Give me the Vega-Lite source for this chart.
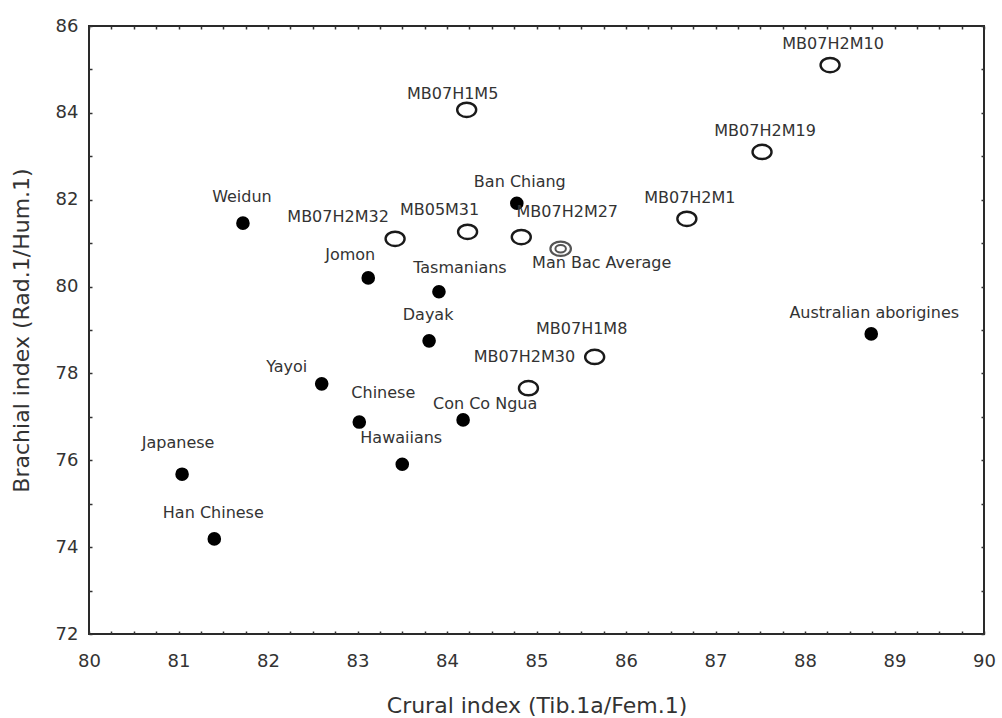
{
  "$schema": "https://vega.github.io/schema/vega-lite/v6.json",
  "autosize": {"type": "none"},
  "padding": {"left": 89, "top": 26, "right": 18, "bottom": 84},
  "width": 895,
  "height": 608,
  "background": "white",
  "config": {
    "view": {"stroke": "#2a2a2a", "strokeWidth": 2},
    "text": {"font": "DejaVu Sans", "fontSize": 16, "color": "#333"}
  },
  "data": {
    "values": [
      {"name": "Weidun", "crural": 81.72, "brachial": 81.46, "group": "ref"},
      {"name": "Jomon", "crural": 83.12, "brachial": 80.20, "group": "ref"},
      {"name": "Tasmanians", "crural": 83.91, "brachial": 79.88, "group": "ref"},
      {"name": "Dayak", "crural": 83.80, "brachial": 78.75, "group": "ref"},
      {"name": "Ban Chiang", "crural": 84.78, "brachial": 81.92, "group": "ref"},
      {"name": "Australian aborigines", "crural": 88.74, "brachial": 78.91, "group": "ref"},
      {"name": "Yayoi", "crural": 82.60, "brachial": 77.76, "group": "ref"},
      {"name": "Chinese", "crural": 83.02, "brachial": 76.88, "group": "ref"},
      {"name": "Con Co Ngua", "crural": 84.18, "brachial": 76.93, "group": "ref"},
      {"name": "Hawaiians", "crural": 83.50, "brachial": 75.91, "group": "ref"},
      {"name": "Japanese", "crural": 81.04, "brachial": 75.68, "group": "ref"},
      {"name": "Han Chinese", "crural": 81.40, "brachial": 74.19, "group": "ref"},
      {"name": "MB07H1M5", "crural": 84.22, "brachial": 84.07, "group": "mb"},
      {"name": "MB07H2M32", "crural": 83.42, "brachial": 81.10, "group": "mb"},
      {"name": "MB05M31", "crural": 84.23, "brachial": 81.26, "group": "mb"},
      {"name": "MB07H2M10", "crural": 88.28, "brachial": 85.10, "group": "mb"},
      {"name": "MB07H2M19", "crural": 87.52, "brachial": 83.10, "group": "mb"},
      {"name": "MB07H2M1", "crural": 86.68, "brachial": 81.56, "group": "mb"},
      {"name": "MB07H2M27", "crural": 84.83, "brachial": 81.14, "group": "mb"},
      {"name": "MB07H1M8", "crural": 85.65, "brachial": 78.38, "group": "mb"},
      {"name": "MB07H2M30", "crural": 84.91, "brachial": 77.66, "group": "mb"},
      {"name": "Man Bac Average", "crural": 85.27, "brachial": 80.87, "group": "avg"}
    ]
  },
  "resolve": {"axis": {"x": "independent", "y": "independent"}},
  "layer": [
    {
      "transform": [{"filter": "datum.group === 'ref'"}],
      "mark": {"type": "point", "shape": "circle", "filled": true, "size": 185, "color": "#000", "opacity": 1},
      "encoding": {
        "x": {"field": "crural", "type": "quantitative",
          "scale": {"domain": [80, 90], "nice": false, "zero": false},
          "axis": {"orient": "bottom", "title": "Crural index (Tib.1a/Fem.1)",
            "values": [80,80.25,80.5,80.75,81,81.25,81.5,81.75,82,82.25,82.5,82.75,83,83.25,83.5,83.75,84,84.25,84.5,84.75,85,85.25,85.5,85.75,86,86.25,86.5,86.75,87,87.25,87.5,87.75,88,88.25,88.5,88.75,89,89.25,89.5,89.75,90],
            "labelExpr": "datum.value % 1 === 0 ? format(datum.value, 'd') : ''",
            "labelOverlap": false, "labelFlush": false, "labelBound": false,
            "domain": false, "grid": false,
            "tickSize": -3, "tickColor": "#333", "tickWidth": 1.5,
            "labelFont": "DejaVu Sans", "labelFontSize": 18, "labelColor": "#333", "labelPadding": 21,
            "titleFont": "DejaVu Sans", "titleFontSize": 22, "titleFontWeight": "normal", "titleColor": "#333", "titlePadding": 25}},
        "y": {"field": "brachial", "type": "quantitative",
          "scale": {"domain": [72, 86], "nice": false, "zero": false},
          "axis": {"orient": "left", "title": "Brachial index (Rad.1/Hum.1)",
            "values": [72,73,74,75,76,77,78,79,80,81,82,83,84,85,86],
            "labelExpr": "datum.value % 2 === 0 ? format(datum.value, 'd') : ''",
            "labelOverlap": false, "labelFlush": false, "labelBound": false,
            "domain": false, "grid": false,
            "tickSize": -3, "tickColor": "#333", "tickWidth": 1.5,
            "labelFont": "DejaVu Sans", "labelFontSize": 18, "labelColor": "#333", "labelPadding": 14,
            "titleFont": "DejaVu Sans", "titleFontSize": 22, "titleFontWeight": "normal", "titleColor": "#333", "titlePadding": 22}}
      }
    },
    {
      "transform": [{"filter": "datum.group === 'mb'"}],
      "mark": {"type": "point", "shape": "M-1,0A1,0.75,0,1,1,1,0A1,0.75,0,1,1,-1,0Z", "filled": false, "size": 361, "stroke": "#1a1a1a", "strokeWidth": 2.4, "opacity": 1},
      "encoding": {
        "x": {"field": "crural", "type": "quantitative",
          "axis": {"orient": "top", "title": null, "labels": false, "domain": false, "grid": false,
            "values": [80,80.25,80.5,80.75,81,81.25,81.5,81.75,82,82.25,82.5,82.75,83,83.25,83.5,83.75,84,84.25,84.5,84.75,85,85.25,85.5,85.75,86,86.25,86.5,86.75,87,87.25,87.5,87.75,88,88.25,88.5,88.75,89,89.25,89.5,89.75,90],
            "tickSize": -3, "tickColor": "#333", "tickWidth": 1.5}},
        "y": {"field": "brachial", "type": "quantitative",
          "axis": {"orient": "right", "title": null, "labels": false, "domain": false, "grid": false,
            "values": [72,73,74,75,76,77,78,79,80,81,82,83,84,85,86],
            "tickSize": -3, "tickColor": "#333", "tickWidth": 1.5}}
      }
    },
    {
      "transform": [{"filter": "datum.group === 'avg'"}],
      "mark": {"type": "point", "shape": "M-1,0A1,0.7,0,1,1,1,0A1,0.7,0,1,1,-1,0Z", "filled": false, "size": 420, "stroke": "#555", "strokeWidth": 2.2, "opacity": 1},
      "encoding": {
        "x": {"field": "crural", "type": "quantitative", "axis": null},
        "y": {"field": "brachial", "type": "quantitative", "axis": null}
      }
    },
    {
      "transform": [{"filter": "datum.group === 'avg'"}],
      "mark": {"type": "point", "shape": "M-1,0A1,0.7,0,1,1,1,0A1,0.7,0,1,1,-1,0Z", "filled": false, "size": 110, "stroke": "#555", "strokeWidth": 2, "opacity": 1},
      "encoding": {
        "x": {"field": "crural", "type": "quantitative", "axis": null},
        "y": {"field": "brachial", "type": "quantitative", "axis": null}
      }
    },
    {
      "transform": [{"filter": {"field": "name", "oneOf": ["MB07H2M10", "MB07H2M19", "MB07H2M1", "Ban Chiang", "Australian aborigines"]}}],
      "mark": {"type": "text", "dx": 3, "dy": -21, "align": "center", "baseline": "middle"},
      "encoding": {"x": {"field": "crural", "type": "quantitative", "axis": null}, "y": {"field": "brachial", "type": "quantitative", "axis": null}, "text": {"field": "name"}}
    },
    {
      "transform": [{"filter": {"field": "name", "oneOf": ["Weidun", "Dayak", "Hawaiians", "Han Chinese"]}}],
      "mark": {"type": "text", "dx": -1, "dy": -26, "align": "center", "baseline": "middle"},
      "encoding": {"x": {"field": "crural", "type": "quantitative", "axis": null}, "y": {"field": "brachial", "type": "quantitative", "axis": null}, "text": {"field": "name"}}
    },
    {
      "transform": [{"filter": {"field": "name", "oneOf": ["MB07H1M5"]}}],
      "mark": {"type": "text", "dx": -14, "dy": -16, "align": "center", "baseline": "middle"},
      "encoding": {"x": {"field": "crural", "type": "quantitative", "axis": null}, "y": {"field": "brachial", "type": "quantitative", "axis": null}, "text": {"field": "name"}}
    },
    {
      "transform": [{"filter": {"field": "name", "oneOf": ["MB07H1M8"]}}],
      "mark": {"type": "text", "dx": -13, "dy": -28, "align": "center", "baseline": "middle"},
      "encoding": {"x": {"field": "crural", "type": "quantitative", "axis": null}, "y": {"field": "brachial", "type": "quantitative", "axis": null}, "text": {"field": "name"}}
    },
    {
      "transform": [{"filter": {"field": "name", "oneOf": ["MB07H2M32"]}}],
      "mark": {"type": "text", "dx": -57, "dy": -22, "align": "center", "baseline": "middle"},
      "encoding": {"x": {"field": "crural", "type": "quantitative", "axis": null}, "y": {"field": "brachial", "type": "quantitative", "axis": null}, "text": {"field": "name"}}
    },
    {
      "transform": [{"filter": {"field": "name", "oneOf": ["MB05M31"]}}],
      "mark": {"type": "text", "dx": -28, "dy": -22, "align": "center", "baseline": "middle"},
      "encoding": {"x": {"field": "crural", "type": "quantitative", "axis": null}, "y": {"field": "brachial", "type": "quantitative", "axis": null}, "text": {"field": "name"}}
    },
    {
      "transform": [{"filter": {"field": "name", "oneOf": ["Jomon"]}}],
      "mark": {"type": "text", "dx": -18, "dy": -23, "align": "center", "baseline": "middle"},
      "encoding": {"x": {"field": "crural", "type": "quantitative", "axis": null}, "y": {"field": "brachial", "type": "quantitative", "axis": null}, "text": {"field": "name"}}
    },
    {
      "transform": [{"filter": {"field": "name", "oneOf": ["Yayoi"]}}],
      "mark": {"type": "text", "dx": -35, "dy": -17, "align": "center", "baseline": "middle"},
      "encoding": {"x": {"field": "crural", "type": "quantitative", "axis": null}, "y": {"field": "brachial", "type": "quantitative", "axis": null}, "text": {"field": "name"}}
    },
    {
      "transform": [{"filter": {"field": "name", "oneOf": ["MB07H2M30", "Japanese"]}}],
      "mark": {"type": "text", "dx": -4, "dy": -31, "align": "center", "baseline": "middle"},
      "encoding": {"x": {"field": "crural", "type": "quantitative", "axis": null}, "y": {"field": "brachial", "type": "quantitative", "axis": null}, "text": {"field": "name"}}
    },
    {
      "transform": [{"filter": {"field": "name", "oneOf": ["MB07H2M27"]}}],
      "mark": {"type": "text", "dx": 46, "dy": -25, "align": "center", "baseline": "middle"},
      "encoding": {"x": {"field": "crural", "type": "quantitative", "axis": null}, "y": {"field": "brachial", "type": "quantitative", "axis": null}, "text": {"field": "name"}}
    },
    {
      "transform": [{"filter": {"field": "name", "oneOf": ["Tasmanians"]}}],
      "mark": {"type": "text", "dx": 21, "dy": -24, "align": "center", "baseline": "middle"},
      "encoding": {"x": {"field": "crural", "type": "quantitative", "axis": null}, "y": {"field": "brachial", "type": "quantitative", "axis": null}, "text": {"field": "name"}}
    },
    {
      "transform": [{"filter": {"field": "name", "oneOf": ["Con Co Ngua"]}}],
      "mark": {"type": "text", "dx": 22, "dy": -16, "align": "center", "baseline": "middle"},
      "encoding": {"x": {"field": "crural", "type": "quantitative", "axis": null}, "y": {"field": "brachial", "type": "quantitative", "axis": null}, "text": {"field": "name"}}
    },
    {
      "transform": [{"filter": {"field": "name", "oneOf": ["Chinese"]}}],
      "mark": {"type": "text", "dx": 24, "dy": -29, "align": "center", "baseline": "middle"},
      "encoding": {"x": {"field": "crural", "type": "quantitative", "axis": null}, "y": {"field": "brachial", "type": "quantitative", "axis": null}, "text": {"field": "name"}}
    },
    {
      "transform": [{"filter": {"field": "name", "oneOf": ["Man Bac Average"]}}],
      "mark": {"type": "text", "dx": 41, "dy": 14, "align": "center", "baseline": "middle"},
      "encoding": {"x": {"field": "crural", "type": "quantitative", "axis": null}, "y": {"field": "brachial", "type": "quantitative", "axis": null}, "text": {"field": "name"}}
    }
  ]
}
